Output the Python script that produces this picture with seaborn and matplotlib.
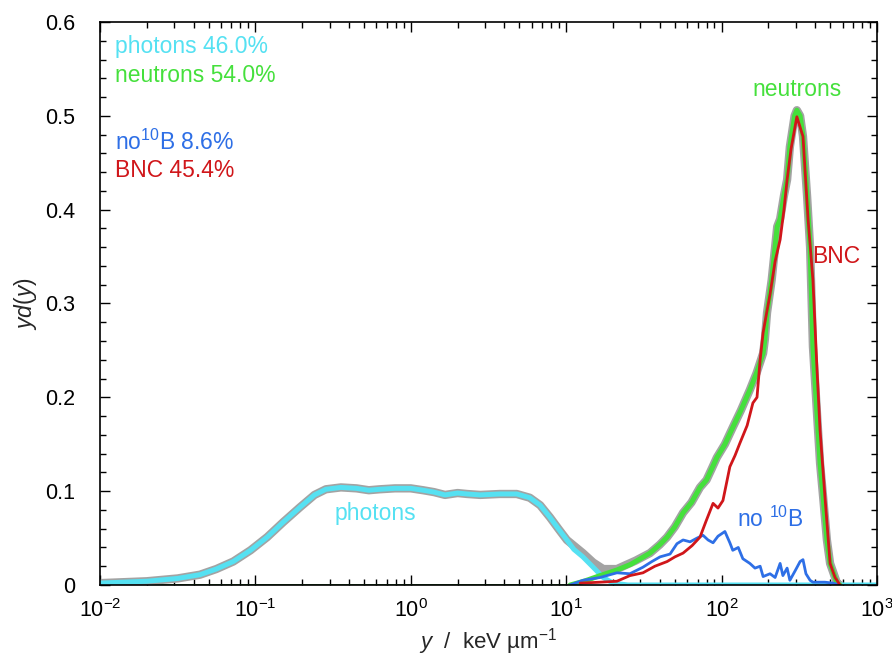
import numpy as np
import pandas as pd
import matplotlib
matplotlib.use("Agg")
import matplotlib.pyplot as plt
from matplotlib.ticker import MultipleLocator, LogLocator, FuncFormatter
import seaborn as sns

# ---------------- data ----------------
photon_x = [0.01, 0.02, 0.0316, 0.044, 0.056, 0.072, 0.093, 0.119, 0.151, 0.194,
            0.24, 0.284, 0.355, 0.447, 0.537, 0.63, 0.79, 1.0, 1.2, 1.41,
            1.66, 2.0, 2.3, 2.8, 3.74, 4.8, 5.83, 6.8, 7.87, 8.9,
            10.1, 11.2, 12.8, 14.9, 17.3, 20.0, 25.0, 100.0, 1000.0]
photon_v = [0.002, 0.004, 0.007, 0.011, 0.017, 0.025, 0.037, 0.051, 0.067, 0.083,
            0.096, 0.102, 0.104, 0.103, 0.101, 0.102, 0.103, 0.103, 0.101, 0.099,
            0.096, 0.098, 0.097, 0.096, 0.097, 0.097, 0.093, 0.085, 0.072, 0.060,
            0.048, 0.038, 0.030, 0.019, 0.008, 0.002, 0.0, 0.0, 0.0]

neutron_x = [10.6, 13.0, 16.5, 21.2, 26.0, 30.0, 34.6, 40.0, 44.6, 50.0,
             56.5, 64.0, 72.6, 80.0, 87.0, 93.3, 105.0, 118.0, 133.0, 152.0,
             168.0, 185.0, 190.0, 196.0, 210.0, 228.0, 238.0, 252.0, 264.0, 275.0,
             295.0, 305.0, 320.0, 334.0, 355.0, 371.0, 387.0, 411.0, 430.0, 450.0,
             476.0, 499.0, 553.0, 578.0]
neutron_v = [0.0, 0.004, 0.010, 0.016, 0.022, 0.028, 0.034, 0.043, 0.051, 0.062,
             0.077, 0.088, 0.104, 0.112, 0.125, 0.136, 0.150, 0.168, 0.186, 0.208,
             0.226, 0.247, 0.262, 0.290, 0.325, 0.382, 0.390, 0.415, 0.432, 0.467,
             0.500, 0.506, 0.500, 0.478, 0.414, 0.360, 0.254, 0.183, 0.130, 0.094,
             0.048, 0.023, 0.002, 0.0]

total_x = photon_x[:31] + [12.8, 14.9, 17.3, 21.2, 28.0] + neutron_x[6:]
total_v = photon_v[:31] + [0.034, 0.024, 0.017, 0.017, 0.026] + neutron_v[6:]

bnc_x = [12.3, 16.5, 21.2, 25.7, 31.2, 37.2, 44.6, 50.1, 56.5, 64.6,
         72.6, 79.4, 88.1, 94.8, 102.0, 108.0, 113.0, 122.0, 131.0, 146.0,
         159.0, 169.0, 177.0, 185.0, 205.0, 221.0, 238.0, 252.0, 264.0, 280.0,
         305.0, 334.0, 360.0, 387.0, 411.0, 430.0, 462.0, 499.0, 537.0, 578.0]
bnc_v = [0.002, 0.003, 0.004, 0.010, 0.013, 0.020, 0.025, 0.030, 0.034, 0.042,
         0.051, 0.068, 0.087, 0.082, 0.090, 0.110, 0.126, 0.138, 0.151, 0.170,
         0.194, 0.200, 0.240, 0.269, 0.310, 0.345, 0.368, 0.400, 0.432, 0.465,
         0.499, 0.478, 0.390, 0.325, 0.230, 0.165, 0.095, 0.023, 0.008, 0.0]

nob_x = [10.6, 12.8, 16.5, 21.2, 25.7, 31.2, 35.6, 40.2, 46.6, 51.6,
         56.5, 62.7, 69.5, 75.9, 81.8, 88.1, 94.8, 105.0, 113.0, 118.0,
         128.0, 137.0, 152.0, 164.0, 177.0, 185.0, 205.0, 221.0, 238.0, 248.0,
         264.0, 275.0, 297.0, 320.0, 334.0, 349.0, 371.0, 387.0, 462.0, 521.0, 578.0]
nob_v = [0.0, 0.005, 0.008, 0.013, 0.012, 0.019, 0.025, 0.030, 0.033, 0.044,
         0.048, 0.046, 0.050, 0.053, 0.048, 0.045, 0.052, 0.057, 0.045, 0.037,
         0.040, 0.028, 0.023, 0.018, 0.020, 0.009, 0.012, 0.008, 0.023, 0.010,
         0.018, 0.005, 0.015, 0.025, 0.027, 0.012, 0.005, 0.003, 0.003, 0.002, 0.0]

baseline_x = [0.01, 10.0]
baseline_v = [0.0, 0.0]

# ---------------- style ----------------
sns.set_style("ticks")
plt.rcParams['font.family'] = ['Liberation Sans', 'DejaVu Sans']
plt.rcParams['mathtext.fontset'] = 'custom'
plt.rcParams['mathtext.rm'] = 'Liberation Sans'
plt.rcParams['mathtext.it'] = 'Liberation Sans:italic'
plt.rcParams['axes.unicode_minus'] = False

C_PHOT = '#55E1F2'
C_NEUT = '#45E03C'
C_NOB = '#2E6FE6'
C_BNC = '#D0161A'
C_TOT = '#A3A3A3'

fig = plt.figure(figsize=(8.92, 6.59), dpi=100)
ax = fig.add_axes([100/892, 1 - 585/659, 777/892, 563/659])

sns.lineplot(x=baseline_x, y=baseline_v, ax=ax, color='#1F7A1F', lw=2, estimator=None)
sns.lineplot(x=total_x, y=total_v, ax=ax, color=C_TOT, lw=6, estimator=None)
sns.lineplot(x=photon_x, y=photon_v, ax=ax, color=C_PHOT, lw=3.6, estimator=None)
sns.lineplot(x=neutron_x, y=neutron_v, ax=ax, color=C_NEUT, lw=3.6, estimator=None)
sns.lineplot(x=nob_x, y=nob_v, ax=ax, color=C_NOB, lw=2, estimator=None)
sns.lineplot(x=bnc_x, y=bnc_v, ax=ax, color=C_BNC, lw=2, estimator=None)

ax.set_xscale('log')
ax.set_xlim(0.01, 1000)
ax.set_ylim(0, 0.6)
ax.yaxis.set_major_locator(MultipleLocator(0.1))
ax.yaxis.set_minor_locator(MultipleLocator(0.02))
ax.yaxis.set_major_formatter(FuncFormatter(lambda v, p: '0' if abs(v) < 1e-9 else f'{v:.1f}'))
ax.xaxis.set_major_locator(LogLocator(base=10, numticks=10))
ax.xaxis.set_minor_locator(LogLocator(base=10, subs=np.arange(2, 10), numticks=20))
ax.xaxis.set_major_formatter(FuncFormatter(lambda v, p: f'$\\mathregular{{10^{{{int(round(np.log10(v)))}}}}}$'))

ax.tick_params(which='both', direction='in', top=True, right=True, colors='black',
               labelsize=15.5, width=1)
ax.tick_params(axis='y', which='major', length=7, pad=18)
ax.tick_params(axis='x', which='major', length=7, pad=10)
ax.tick_params(which='minor', length=4)
for s in ax.spines.values():
    s.set_color('black')
    s.set_linewidth(1.2)

ax.set_xlabel(r'$y$  /  keV µm$^{\mathregular{-1}}$', fontsize=16, labelpad=3)
ax.set_ylabel(r'$yd$($y$)', fontsize=16.5)
ax.yaxis.set_label_coords(-0.078, 0.5)

# annotations
tf = dict(transform=ax.transAxes, fontsize=16.5, ha='left', va='center')
ax.text(15/777, 1 - 25/563, 'photons 46.0%', color=C_PHOT, **tf)
ax.text(15/777, 1 - 53/563, 'neutrons 54.0%', color=C_NEUT, **tf)
ax.text(15/777, 1 - 120/563, r'no$^{\mathregular{10}}$B 8.6%', color=C_NOB, **tf)
ax.text(15/777, 1 - 148/563, 'BNC 45.4%', color=C_BNC, **tf)

ax.text(305, 0.528, 'neutrons', color=C_NEUT, fontsize=16.5, ha='center', va='center')
ax.text(545, 0.350, 'BNC', color=C_BNC, fontsize=16.5, ha='center', va='center')
ax.text(205, 0.070, r'no $^{\mathregular{10}}$B', color=C_NOB, fontsize=16.5, ha='center', va='center')
ax.text(0.59, 0.076, 'photons', color=C_PHOT, fontsize=16.5, ha='center', va='center')

fig.savefig('out.png', dpi=100)
